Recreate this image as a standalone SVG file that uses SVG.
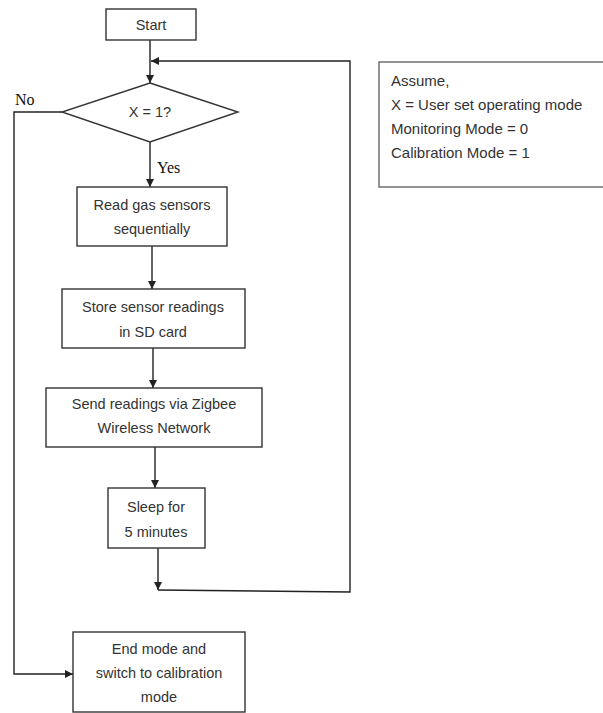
<svg xmlns="http://www.w3.org/2000/svg" width="603" height="713" viewBox="0 0 603 713">
<defs>
<marker id="ah" viewBox="0 0 10 10" refX="10" refY="5" markerWidth="8" markerHeight="8" markerUnits="userSpaceOnUse" orient="auto">
<path d="M0,0 L10,5 L0,10 z" fill="#222"/>
</marker>
</defs>
<style>
.box{fill:#fff;stroke:#333;stroke-width:1.4}
.t{font-family:"Liberation Sans",Arial,sans-serif;font-size:14.5px;fill:#333;text-anchor:middle}
.n{font-family:"Liberation Sans",Arial,sans-serif;font-size:15px;fill:#333}
.s{font-family:"Liberation Serif","Times New Roman",serif;font-size:16px;fill:#111}
.c{fill:none;stroke:#222;stroke-width:1.4}
</style>
<rect width="603" height="713" fill="#fff"/>
<g id="connectors">
<path class="c" d="M150,40 V83" marker-end="url(#ah)"/>
<path class="c" d="M158,590 L350,592 V61 H151" marker-end="url(#ah)"/>
<path class="c" d="M150,142 V187" marker-end="url(#ah)"/>
<path class="c" d="M152,246 V289" marker-end="url(#ah)"/>
<path class="c" d="M153,348 V388" marker-end="url(#ah)"/>
<path class="c" d="M155,447 V488" marker-end="url(#ah)"/>
<path class="c" d="M158,548 V590" marker-end="url(#ah)"/>
<path class="c" d="M62,112 H14 V674 H73" marker-end="url(#ah)"/>
<text class="s" x="15" y="105">No</text>
<text class="s" x="157" y="173">Yes</text>
</g>
<g id="start">
<rect class="box" x="106" y="9" width="90" height="31"/>
<text class="t" x="151" y="30">Start</text>
</g>
<g id="decision">
<polygon class="box" points="150,83 238,112 150,142 62,112"/>
<text class="t" x="150" y="117">X = 1?</text>
</g>
<g id="read">
<rect class="box" x="77" y="187" width="150" height="59"/>
<text class="t" x="152" y="210">Read gas sensors</text>
<text class="t" x="152" y="234">sequentially</text>
</g>
<g id="store">
<rect class="box" x="62" y="289" width="183" height="59"/>
<text class="t" x="153" y="312">Store sensor readings</text>
<text class="t" x="153" y="337">in SD card</text>
</g>
<g id="send">
<rect class="box" x="46" y="388" width="216" height="59"/>
<text class="t" x="154" y="409">Send readings via Zigbee</text>
<text class="t" x="154" y="433">Wireless Network</text>
</g>
<g id="sleep">
<rect class="box" x="108" y="488" width="97" height="60"/>
<text class="t" x="156" y="512">Sleep for</text>
<text class="t" x="156" y="537">5 minutes</text>
</g>
<g id="end">
<rect class="box" x="73" y="632" width="172" height="80"/>
<text class="t" x="159" y="654">End mode and</text>
<text class="t" x="159" y="678">switch to calibration</text>
<text class="t" x="159" y="702">mode</text>
</g>
<g id="note">
<rect x="379" y="62" width="230" height="125" fill="#fff" stroke="#666" stroke-width="1.4"/>
<text class="n" x="391" y="86">Assume,</text>
<text class="n" x="391" y="110">X = User set operating mode</text>
<text class="n" x="391" y="134">Monitoring Mode = 0</text>
<text class="n" x="391" y="158">Calibration Mode = 1</text>
</g>
</svg>
